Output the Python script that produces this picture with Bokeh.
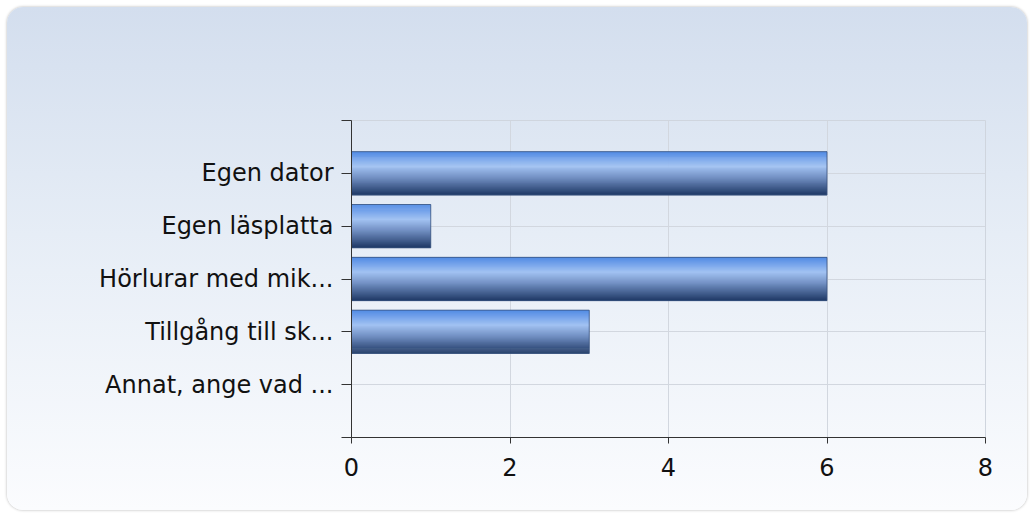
from bokeh.plotting import figure
from bokeh.models import FixedTicker, Range1d
from bokeh.embed import file_html
from bokeh.resources import INLINE

categories = ["Egen dator", "Egen läsplatta", "Hörlurar med mik...", "Tillgång till sk...", "Annat, ange vad ..."]
values = [6, 1, 6, 3, 0]
x_ticks = [0, 2, 4, 6, 8]

n = len(categories)
ypos = [n - i for i in range(n)]  # top category highest

p = figure(frame_width=634, frame_height=317,
           min_border_left=344, min_border_right=42, min_border_top=113, min_border_bottom=73,
           x_range=Range1d(0, 8), y_range=Range1d(0, n + 1),
           output_backend="svg", toolbar_location=None,
           styles={"background": "linear-gradient(to bottom, #d3deee 0%, #e6edf6 45%, #fbfcfe 100%)",
                   "border-radius": "16px",
                   "margin": "7px 0 0 7px",
                   "box-shadow": "0 0 3px rgba(0,0,0,0.30)"})
p.border_fill_color = None
p.background_fill_color = None
p.outline_line_color = "#cfd5de"

# gradient bar slices
def hex2rgb(h):
    h = h.lstrip("#")
    return tuple(int(h[i:i + 2], 16) for i in (0, 2, 4))

stops = [(0.0, "#4f89e4"), (0.35, "#a2c2f2"), (0.6, "#7391c4"), (1.0, "#1f3966")]

def color_at(t):
    for (t0, c0), (t1, c1) in zip(stops[:-1], stops[1:]):
        if t0 <= t <= t1:
            f = (t - t0) / (t1 - t0)
            a, b = hex2rgb(c0), hex2rgb(c1)
            return "#%02x%02x%02x" % tuple(round(a[k] + (b[k] - a[k]) * f) for k in range(3))
    return stops[-1][1]

bar_h = 0.82
nslices = 44
sh = bar_h / nslices
for i in range(nslices):
    t = (i + 0.5) / nslices
    off = bar_h / 2 - (i + 0.5) * sh
    p.hbar(y=[y + off for y in ypos], right=values, left=0, height=sh * 1.6,
           fill_color=color_at(t), line_color=None)
p.hbar(y=ypos, right=values, left=0, height=bar_h, fill_color=None,
       line_color="#3a5480", line_width=1, line_alpha=0.8)

p.xaxis.ticker = FixedTicker(ticks=x_ticks)
p.yaxis.ticker = FixedTicker(ticks=list(range(0, n + 2)))
overrides = {0: "", n + 1: ""}
for y, c in zip(ypos, categories):
    overrides[y] = c
p.yaxis.major_label_overrides = overrides

p.xgrid.ticker = FixedTicker(ticks=x_ticks)
p.ygrid.ticker = FixedTicker(ticks=ypos)
p.grid.grid_line_color = "#d2d7df"
p.grid.grid_line_width = 1

for ax in (p.xaxis, p.yaxis):
    ax.axis_line_color = "#333333"
    ax.major_tick_line_color = "#333333"
    ax.minor_tick_line_color = None
    ax.major_tick_in = 0
    ax.major_label_text_font = "DejaVu Sans"
    ax.major_label_text_font_size = "24px"
    ax.major_label_text_color = "#111111"
p.xaxis.major_tick_out = 6
p.xaxis.major_label_standoff = 14
p.yaxis.major_tick_out = 10
p.yaxis.major_label_standoff = 8

open("out.html", "w").write(file_html(p, INLINE))
